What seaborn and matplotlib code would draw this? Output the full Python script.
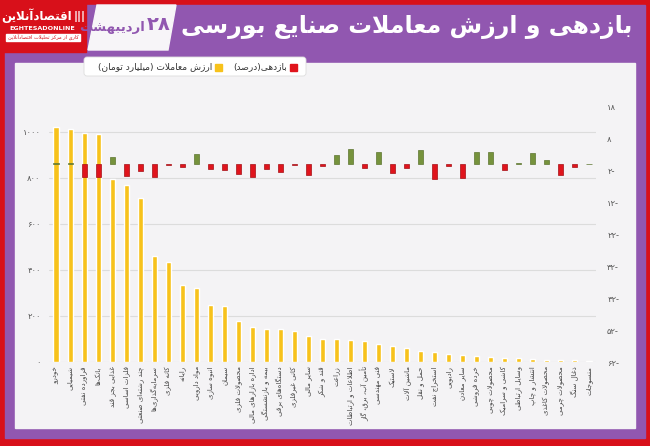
import numpy as np
import pandas as pd
import matplotlib
matplotlib.use('Agg')
import matplotlib.pyplot as plt
from matplotlib.patches import Rectangle, Polygon, FancyBboxPatch
import seaborn as sns

# data
sectors = ['خودرو', 'شیمیایی', 'فراورده نفتی', 'بانک‌ها', 'غذایی بجز قند', 'فلزات اساسی',
           'چند رشته‌ای صنعتی', 'سرمایه‌گذاری‌ها', 'کانه فلزی', 'رایانه', 'مواد دارویی',
           'انبوه سازی', 'سیمان', 'محصولات فلزی', 'اداره بازارهای مالی', 'بیمه و بازنشستگی',
           'دستگاه‌های برقی', 'کانی غیرفلزی', 'سایر مالی', 'قند و شکر', 'زراعت',
           'اطلاعات و ارتباطات', 'تأمین آب، برق، گاز', 'فنی مهندسی', 'لاستیک', 'ماشین آلات',
           'حمل و نقل', 'استخراج نفت', 'رادیویی', 'سایر معادن', 'خرده فروشی', 'محصولات چوبی',
           'کاشی و سرامیک', 'وسایل ارتباطی', 'انتشار و چاپ', 'محصولات کاغذی', 'محصولات چرمی',
           'ذغال سنگ', 'منسوجات']
trade_value = [1021, 1011, 993, 990, 792, 767, 713, 458, 432, 332, 322, 249, 243, 177, 152,
               145, 142, 135, 113, 100, 100, 95, 89, 78, 69, 62, 49, 42, 34, 30, 26, 20, 17,
               16, 12, 10, 8, 7, 5]
returns = [0.3, 0.2, -4.0, -4.0, 2.3, -3.8, -2.3, -4.0, -0.2, -1.1, 3.0, -1.7, -1.8, -3.2,
           -4.0, -1.7, -2.4, -0.4, -3.4, -0.8, 2.7, 4.8, -1.4, 3.8, -2.8, -1.2, 4.3, -4.8,
           -0.8, -4.5, 3.6, 3.8, -1.8, 0.2, 3.4, 1.2, -3.6, -1.0, 0.1]
left_ticks = [0, 200, 400, 600, 800, 1000]
left_labels = ['۰', '۲۰۰', '۴۰۰', '۶۰۰', '۸۰۰', '۱۰۰۰']
right_ticks = [18, 8, -2, -12, -22, -32, -42, -52, -62]
right_labels = ['۱۸', '۸', '۲-', '۱۲-', '۲۲-', '۳۲-', '۴۲-', '۵۲-', '۶۲-']

YELLOW = '#f7c21b'
RED = '#e0141c'
GREEN = '#76923c'
PURPLE = '#9157b0'
FRAME_RED = '#d8101a'
PANEL = '#f4f3f5'

# minimal Persian shaping (matplotlib has no bidi / joining)
FORMS = {
    'ا': [0xFE8D, 0xFE8E], 'آ': [0xFE81, 0xFE82], 'أ': [0xFE83, 0xFE84],
    'ئ': [0xFE89, 0xFE8A, 0xFE8B, 0xFE8C], 'ب': [0xFE8F, 0xFE90, 0xFE91, 0xFE92],
    'پ': [0xFB56, 0xFB57, 0xFB58, 0xFB59], 'ت': [0xFE95, 0xFE96, 0xFE97, 0xFE98],
    'ث': [0xFE99, 0xFE9A, 0xFE9B, 0xFE9C], 'ج': [0xFE9D, 0xFE9E, 0xFE9F, 0xFEA0],
    'چ': [0xFB7A, 0xFB7B, 0xFB7C, 0xFB7D], 'ح': [0xFEA1, 0xFEA2, 0xFEA3, 0xFEA4],
    'خ': [0xFEA5, 0xFEA6, 0xFEA7, 0xFEA8], 'د': [0xFEA9, 0xFEAA], 'ذ': [0xFEAB, 0xFEAC],
    'ر': [0xFEAD, 0xFEAE], 'ز': [0xFEAF, 0xFEB0], 'ژ': [0xFB8A, 0xFB8B],
    'س': [0xFEB1, 0xFEB2, 0xFEB3, 0xFEB4], 'ش': [0xFEB5, 0xFEB6, 0xFEB7, 0xFEB8],
    'ص': [0xFEB9, 0xFEBA, 0xFEBB, 0xFEBC], 'ض': [0xFEBD, 0xFEBE, 0xFEBF, 0xFEC0],
    'ط': [0xFEC1, 0xFEC2, 0xFEC3, 0xFEC4], 'ظ': [0xFEC5, 0xFEC6, 0xFEC7, 0xFEC8],
    'ع': [0xFEC9, 0xFECA, 0xFECB, 0xFECC], 'غ': [0xFECD, 0xFECE, 0xFECF, 0xFED0],
    'ف': [0xFED1, 0xFED2, 0xFED3, 0xFED4], 'ق': [0xFED5, 0xFED6, 0xFED7, 0xFED8],
    'ک': [0xFB8E, 0xFB8F, 0xFB90, 0xFB91], 'گ': [0xFB92, 0xFB93, 0xFB94, 0xFB95],
    'ل': [0xFEDD, 0xFEDE, 0xFEDF, 0xFEE0], 'م': [0xFEE1, 0xFEE2, 0xFEE3, 0xFEE4],
    'ن': [0xFEE5, 0xFEE6, 0xFEE7, 0xFEE8], 'ه': [0xFEE9, 0xFEEA, 0xFEEB, 0xFEEC],
    'و': [0xFEED, 0xFEEE], 'ی': [0xFBFC, 0xFBFD, 0xFBFE, 0xFBFF],
}
LAMALEF = {'ا': [0xFEFB, 0xFEFC], 'آ': [0xFEF5, 0xFEF6], 'أ': [0xFEF7, 0xFEF8]}
MIRROR = {'(': ')', ')': '('}


def dual(c):
    return c in FORMS and len(FORMS[c]) == 4


def fa(text):
    out = []
    i = 0
    n = len(text)
    while i < n:
        c = text[i]
        prev = text[i - 1] if i > 0 else ''
        if c == 'ل' and i + 1 < n and text[i + 1] in LAMALEF:
            out.append(chr(LAMALEF[text[i + 1]][1 if dual(prev) else 0]))
            i += 2
            continue
        if c in FORMS:
            nxt = text[i + 1] if i + 1 < n else ''
            jp = dual(prev)
            jn = dual(c) and nxt in FORMS
            f = FORMS[c]
            if jp and jn:
                out.append(chr(f[3]))
            elif jp:
                out.append(chr(f[1]))
            elif jn:
                out.append(chr(f[2]))
            else:
                out.append(chr(f[0]))
        elif c != '\u200c':
            out.append(MIRROR.get(c, c))
        i += 1
    out = out[::-1]
    # keep digit / latin runs left-to-right
    res, run = [], []
    for ch in out:
        if ch.isdigit() or ch.isascii() and ch.isalpha():
            run.append(ch)
        else:
            res.extend(run[::-1])
            run = []
            res.append(ch)
    res.extend(run[::-1])
    return ''.join(res)


sns.set_style('white')
plt.rcParams['font.family'] = ['DejaVu Sans']

fig = plt.figure(figsize=(6.5, 4.46), dpi=100)

# frame and header, in pixel coordinates
bg = fig.add_axes([0, 0, 1, 1])
bg.set_xlim(0, 650)
bg.set_ylim(446, 0)
bg.axis('off')
bg.add_patch(Rectangle((0, 0), 650, 446, color=FRAME_RED))
bg.add_patch(Rectangle((5, 5), 640, 433, color=PURPLE))
bg.add_patch(Rectangle((15, 63), 620, 365, color=PANEL))
bg.add_patch(Rectangle((0, 0), 86, 52, color=FRAME_RED))
bg.add_patch(Polygon([(97, 5), (176, 5), (168, 50), (88, 50)], color='#f7f5f8'))
bg.add_patch(FancyBboxPatch((84, 57), 222, 19, boxstyle='round,pad=0,rounding_size=3',
                            fc='white', ec='#dddddd', lw=0.6))

bg.text(632, 27, fa('بازدهی و ارزش معاملات صنایع بورسی'), color='white',
        fontsize=17, fontweight='bold', ha='right', va='center')
bg.text(171, 25, '۲۸', color=PURPLE, fontsize=14, fontweight='bold', ha='right', va='center')
bg.text(145, 27, fa('اردیبهشت'), color=PURPLE, fontsize=9.5, fontweight='bold',
        ha='right', va='center')

# logo
bg.text(37, 16, fa('اقتصادآنلاین'), color='white', fontsize=8.5, fontweight='bold',
        ha='center', va='center')
bg.text(74, 16, '|||', color='white', fontsize=8, fontweight='bold', ha='left', va='center')
bg.text(42, 29, 'EGHTESADONLINE', color='white', fontsize=4.6, fontweight='bold',
        ha='center', va='center')
bg.add_patch(Rectangle((6, 34), 74, 7, color='white'))
bg.text(43, 37.5, fa('کاری از مرکز تحلیلات اقتصادآنلاین'), color=FRAME_RED, fontsize=3.6,
        ha='center', va='center')

# legend
bg.add_patch(Rectangle((289.5, 63.5), 7, 7, color=RED))
bg.text(287, 67, fa('بازدهی(درصد)'), fontsize=6.5, color='#333333', ha='right', va='center')
bg.add_patch(Rectangle((214.5, 63.5), 7, 7, color=YELLOW))
bg.text(212, 67, fa('ارزش معاملات (میلیارد تومان)'), fontsize=6.5, color='#333333',
        ha='right', va='center')

df = pd.DataFrame({'sector': sectors, 'value': trade_value, 'ret': returns})
df['sign'] = np.where(df['ret'] >= 0, 'up', 'down')

ax = fig.add_axes([49 / 650, (446 - 362) / 446, 547 / 650, 262 / 446])
ax.patch.set_alpha(0)
sns.barplot(data=df, x='sector', y='value', color=YELLOW, saturation=1, width=0.36, ax=ax)
ax.set_ylim(0, 1137)
ax.set_yticks(left_ticks)
ax.set_yticklabels(left_labels, fontsize=6, color='#555555')
ax.set_xticks(range(len(sectors)))
ax.set_xticklabels([fa(s) for s in sectors], rotation=90, fontsize=5.0, color='#444444')
ax.tick_params(length=0, pad=6)
ax.tick_params(axis='x', pad=3)
ax.grid(axis='y', color='#dcdcdc', lw=0.8)
ax.set_axisbelow(True)
ax.set_xlabel('')
ax.set_ylabel('')
sns.despine(ax=ax, left=True, bottom=True)

ax2 = ax.twinx()
sns.barplot(data=df, x='sector', y='ret', hue='sign', palette={'up': GREEN, 'down': RED},
            dodge=False, saturation=1, width=0.36, legend=False, ax=ax2)
for p in ax2.patches:
    p.set_edgecolor('#a50e14' if p.get_height() < 0 else '#5d7530')
    p.set_linewidth(0.5)
ax2.set_ylim(-62, 20)
ax2.set_yticks(right_ticks)
ax2.set_yticklabels(right_labels, fontsize=6, color='#555555')
ax2.tick_params(length=0, pad=8)
ax2.grid(False)
ax2.set_ylabel('')
for s in ax2.spines.values():
    s.set_visible(False)

fig.savefig('out.png', dpi=100)
